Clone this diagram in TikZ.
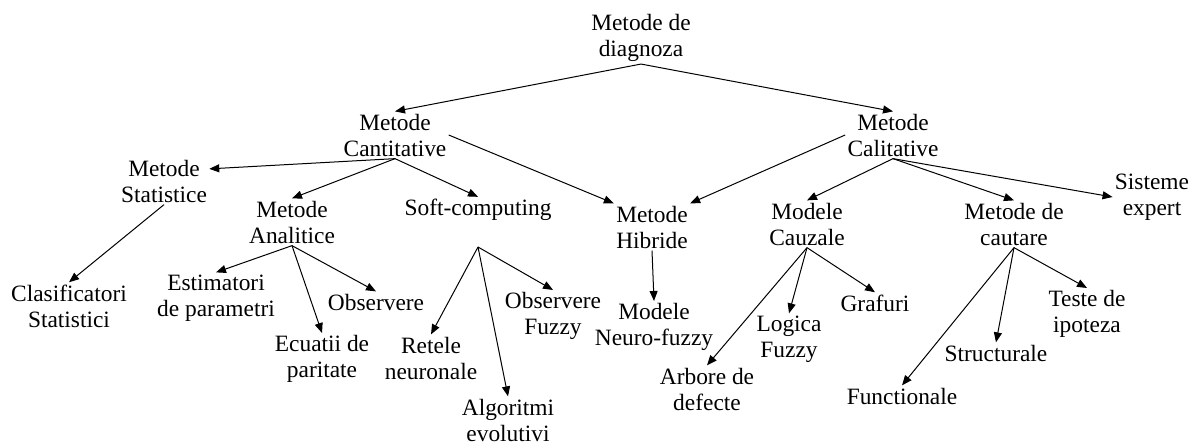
\documentclass[tikz,border=0pt]{standalone}
\usepackage{fontspec}
\setmainfont{Liberation Serif}
\usetikzlibrary{arrows.meta}

\begin{document}
\begin{tikzpicture}[x=0.5pt, y=-0.5pt,
    txt/.style={align=center, inner sep=1pt, font=\fontsize{11.7}{13}\selectfont},
    arr/.style={-{Triangle[length=5pt, width=4pt]}, line width=0.5pt}]
  \useasboundingbox (0,0) rectangle (1192,446);
  % levels of the tree
  \node[txt] (root) at (641,38) {Metode de\\diagnoza};
  \node[txt] (cant) at (395,135) {Metode\\Cantitative};
  \node[txt] (cali) at (893,135) {Metode\\Calitative};
  \node[txt] (stat) at (164,181) {Metode\\Statistice};
  \node[txt] (anal) at (292,222) {Metode\\Analitice};
  \node[txt] (soft) at (478,210) {Soft-computing};
  \coordinate (softfork) at (478,247);
  \node[txt] (hib) at (652,227) {Metode\\Hibride};
  \node[txt] (caus) at (807,224) {Modele\\Cauzale};
  \node[txt] (caut) at (1014,224) {Metode de\\cautare};
  \node[txt] (sist) at (1152,197) {Sisteme\\expert};
  % leaves
  \node[txt] (clas) at (69,306) {Clasificatori\\Statistici};
  \node[txt] (est) at (216,298) {Estimatori\\de parametri};
  \node[txt] (obs) at (376,302) {Observere};
  \node[txt] (ecu) at (322,359) {Ecuatii de\\paritate};
  \node[txt] (ret) at (431,358) {Retele\\neuronale};
  \node[txt] (alg) at (508,420) {Algoritmi\\evolutivi};
  \node[txt] (ofz) at (553,316) {Observere\\Fuzzy};
  \node[txt] (nf) at (654,327) {Modele\\Neuro-fuzzy};
  \node[txt] (arb) at (707,389) {Arbore de\\defecte};
  \node[txt] (log) at (789,339) {Logica\\Fuzzy};
  \node[txt] (graf) at (875,303) {Grafuri};
  \node[txt] (func) at (902,396) {Functionale};
  \node[txt] (struct) at (996,353) {Structurale};
  \node[txt] (teste) at (1087,314) {Teste de\\ipoteza};
  % connectors
  \draw[arr] (root.south) -- (cant.north);
  \draw[arr] (root.south) -- (cali.north);
  \draw[arr] (cant.south) -- (stat.15);
  \draw[arr] (cant.south) -- (anal.north);
  \draw[arr] (cant.south) -- (soft.north);
  \draw[arr] (cant.east) -- (hib.north west);
  \draw[arr] (cali.west) -- (hib.north east);
  \draw[arr] (cali.south) -- (caus.north);
  \draw[arr] (cali.south) -- (caut.north);
  \draw[arr] (cali.south) -- (sist.west);
  \draw[arr] (stat.south) -- (clas.north);
  \draw[arr] (anal.south) -- (est.north);
  \draw[arr] (anal.south) -- (ecu.north);
  \draw[arr] (anal.south) -- (obs.north);
  \draw[arr] (softfork) -- (ret.north);
  \draw[arr] (softfork) -- (alg.north);
  \draw[arr] (softfork) -- (ofz.north);
  \draw[arr] (hib.south) -- (nf.north);
  \draw[arr] (caus.south) -- (arb.north);
  \draw[arr] (caus.south) -- (log.north);
  \draw[arr] (caus.south) -- (graf.north);
  \draw[arr] (caut.south) -- (func.north);
  \draw[arr] (caut.south) -- (struct.north);
  \draw[arr] (caut.south) -- (teste.north);
\end{tikzpicture}
\end{document}
